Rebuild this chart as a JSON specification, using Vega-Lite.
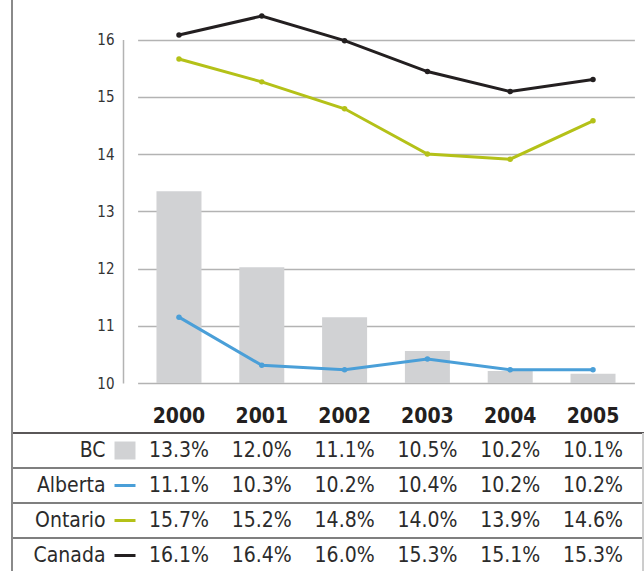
{
  "$schema": "https://vega.github.io/schema/vega-lite/v6.json",
  "width": 521,
  "height": 383,
  "autosize": "none",
  "padding": {"left": 123, "top": 0, "right": 0, "bottom": 188},
  "config": {
    "view": {"stroke": null},
    "font": "Liberation Sans Narrow, DejaVu Sans Condensed, sans-serif"
  },
  "data": {
    "values": [
      {"series": "BC", "year": "2000", "value": 13.35, "label": "13.3%"},
      {"series": "BC", "year": "2001", "value": 12.02, "label": "12.0%"},
      {"series": "BC", "year": "2002", "value": 11.15, "label": "11.1%"},
      {"series": "BC", "year": "2003", "value": 10.56, "label": "10.5%"},
      {"series": "BC", "year": "2004", "value": 10.21, "label": "10.2%"},
      {"series": "BC", "year": "2005", "value": 10.16, "label": "10.1%"},
      {"series": "Alberta", "year": "2000", "value": 11.15, "label": "11.1%"},
      {"series": "Alberta", "year": "2001", "value": 10.31, "label": "10.3%"},
      {"series": "Alberta", "year": "2002", "value": 10.23, "label": "10.2%"},
      {"series": "Alberta", "year": "2003", "value": 10.42, "label": "10.4%"},
      {"series": "Alberta", "year": "2004", "value": 10.23, "label": "10.2%"},
      {"series": "Alberta", "year": "2005", "value": 10.23, "label": "10.2%"},
      {"series": "Ontario", "year": "2000", "value": 15.66, "label": "15.7%"},
      {"series": "Ontario", "year": "2001", "value": 15.26, "label": "15.2%"},
      {"series": "Ontario", "year": "2002", "value": 14.79, "label": "14.8%"},
      {"series": "Ontario", "year": "2003", "value": 14.0, "label": "14.0%"},
      {"series": "Ontario", "year": "2004", "value": 13.91, "label": "13.9%"},
      {"series": "Ontario", "year": "2005", "value": 14.58, "label": "14.6%"},
      {"series": "Canada", "year": "2000", "value": 16.08, "label": "16.1%"},
      {"series": "Canada", "year": "2001", "value": 16.41, "label": "16.4%"},
      {"series": "Canada", "year": "2002", "value": 15.98, "label": "16.0%"},
      {"series": "Canada", "year": "2003", "value": 15.44, "label": "15.3%"},
      {"series": "Canada", "year": "2004", "value": 15.09, "label": "15.1%"},
      {"series": "Canada", "year": "2005", "value": 15.3, "label": "15.3%"}
    ]
  },
  "layer": [
    {
      "layer": [
        {
          "transform": [{"filter": "datum.series === 'BC'"}],
          "mark": {"type": "bar", "color": "#d1d2d4"},
          "encoding": {
            "x": {
              "field": "year", "type": "nominal", "title": null,
              "scale": {"type": "band", "range": [14.6, 511.4], "paddingInner": 0.4565, "paddingOuter": 0.228},
              "axis": {"orient": "bottom", "domain": false, "ticks": false, "labelAngle": 0, "labelPadding": 22, "labelFontSize": 21, "labelFontWeight": "bold", "labelColor": "#231f20"}
            },
            "y": {
              "field": "value", "type": "quantitative", "title": null,
              "scale": {"domain": [10, 16], "range": [383, 39.5], "nice": false, "zero": false},
              "axis": {"orient": "left", "values": [10, 11, 12, 13, 14, 15, 16], "format": "d", "grid": true, "gridColor": "#b3b3b3", "gridWidth": 1.5, "domain": true, "domainColor": "#b3b3b3", "domainWidth": 1.5, "ticks": false, "labelPadding": 9, "labelFontSize": 15, "labelColor": "#333333"}
            },
            "y2": {"datum": 10}
          }
        },
        {
          "transform": [{"filter": "datum.series !== 'BC'"}],
          "mark": {"type": "line", "strokeWidth": 3, "point": {"filled": true, "size": 30}},
          "encoding": {
            "x": {"field": "year", "type": "nominal", "title": null},
            "y": {"field": "value", "type": "quantitative", "title": null},
            "color": {
              "field": "series", "type": "nominal",
              "scale": {"domain": ["Alberta", "Ontario", "Canada"], "range": ["#4a9fd8", "#b4c118", "#231f20"]},
              "legend": null
            }
          }
        }
      ]
    },
    {
      "layer": [
        {
          "mark": {"type": "text", "fontSize": 21, "color": "#2b2b2b", "baseline": "middle"},
          "encoding": {
            "x": {"field": "year", "type": "nominal", "title": null},
            "y": {
              "field": "series", "type": "nominal", "title": null,
              "sort": ["BC", "Alberta", "Ontario", "Canada"],
              "scale": {"type": "band", "domain": ["BC", "Alberta", "Ontario", "Canada"], "range": [433, 573], "paddingInner": 0, "paddingOuter": 0},
              "axis": {
                "orient": "left", "offset": -12, "domain": false, "grid": false,
                "ticks": true, "tickSize": 21, "tickCap": "butt",
                "tickColor": {"condition": [
                  {"test": "datum.value === 'BC'", "value": "#d1d2d4"},
                  {"test": "datum.value === 'Alberta'", "value": "#4a9fd8"},
                  {"test": "datum.value === 'Ontario'", "value": "#b4c118"}
                ], "value": "#231f20"},
                "tickWidth": {"condition": {"test": "datum.value === 'BC'", "value": 18}, "value": 3},
                "labelPadding": 9, "labelFontSize": 21, "labelColor": "#2b2b2b"
              }
            },
            "text": {"field": "label", "type": "nominal"}
          }
        },
        {
          "transform": [{"filter": "datum.year === '2000'"}],
          "mark": {"type": "rule", "strokeWidth": 1.5},
          "encoding": {
            "x": {"value": -111},
            "x2": {"value": 521},
            "y": {"field": "series", "type": "nominal", "bandPosition": 0, "title": null},
            "color": {"condition": {"test": "datum.series === 'BC'", "value": "#231f20"}, "value": "#555555"}
          }
        },
        {
          "mark": {"type": "rule", "strokeWidth": 2, "color": "#8a8a8a"},
          "encoding": {"x": {"value": -111}, "y": {"value": 0}, "y2": {"value": 571}}
        },
        {
          "mark": {"type": "rule", "strokeWidth": 1, "color": "#cccccc"},
          "encoding": {"x": {"value": 520}, "y": {"value": 433}, "y2": {"value": 571}}
        }
      ]
    }
  ],
  "resolve": {"scale": {"y": "independent"}, "axis": {"y": "independent"}}
}
